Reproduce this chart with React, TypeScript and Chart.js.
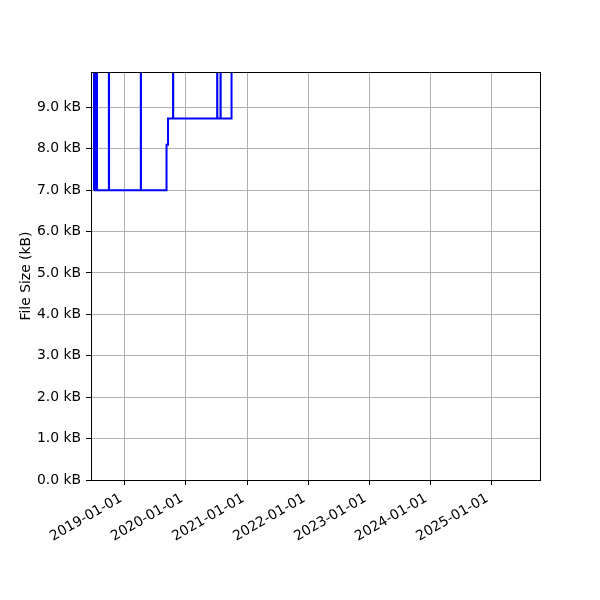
import React, { useEffect, useRef } from "react";
import { Chart, registerables } from "chart.js";

Chart.register(...registerables);

// Commit dates and file sizes (kB) — step series
const commitDates = [
  "2018-06-29", "2018-06-30", "2018-07-06", "2018-07-12", "2018-07-18",
  "2018-09-27", "2018-09-28",
  "2019-04-06", "2019-04-07",
  "2019-09-07", "2019-09-16",
  "2019-10-16", "2019-10-17",
  "2020-07-06", "2020-07-07",
  "2020-07-26", "2020-07-27",
  "2020-09-30",
];
const fileSizesKB = [
  7.0, 12.0, 7.0, 12.0, 7.0,
  12.0, 7.0,
  12.0, 7.0,
  8.1, 8.73,
  12.0, 8.73,
  12.0, 8.73,
  12.0, 8.73,
  12.0,
];
const yearTicks = [2019, 2020, 2021, 2022, 2023, 2024, 2025];
const sizeTicks = [0, 1, 2, 3, 4, 5, 6, 7, 8, 9];

const X_MIN = Date.UTC(2018, 5, 12);
const X_MAX = Date.UTC(2025, 9, 20);
const Y_MAX = 9.855;

const FONT = { family: "DejaVu Sans", size: 13.9 };

const toTs = (s: string) => {
  const [y, m, d] = s.split("-").map(Number);
  return Date.UTC(y, m - 1, d);
};

const pad2 = (n: number) => String(n).padStart(2, "0");

export default function App() {
  const ref = useRef<HTMLCanvasElement | null>(null);

  useEffect(() => {
    if (!ref.current) return;
    const frame = {
      id: "frame",
      afterDatasetsDraw(chart: any) {
        const { ctx, chartArea: a } = chart;
        ctx.save();
        ctx.strokeStyle = "#000";
        ctx.lineWidth = 1;
        ctx.strokeRect(Math.round(a.left) + 0.5, Math.round(a.top) + 0.5, Math.round(a.right - a.left), Math.round(a.bottom - a.top));
        ctx.restore();
      },
    };
    const chart = new Chart(ref.current, {
      type: "line",
      data: {
        datasets: [
          {
            data: commitDates.map((d, i) => ({ x: toTs(d), y: fileSizesKB[i] })),
            borderColor: "#0000ff",
            borderWidth: 2,
            pointRadius: 0,
            stepped: "before",
            fill: false,
          },
        ],
      },
      options: {
        animation: false,
        responsive: false,
        maintainAspectRatio: false,
        layout: { padding: { top: 72, right: 60, left: 0, bottom: 0 } },
        plugins: { legend: { display: false }, tooltip: { enabled: false } },
        scales: {
          x: {
            type: "linear",
            min: X_MIN,
            max: X_MAX,
            afterFit: (s: any) => { s.height = 120; },
            afterBuildTicks: (s: any) => {
              s.ticks = yearTicks.map((y) => ({ value: Date.UTC(y, 0, 1) }));
            },
            ticks: {
              autoSkip: false,
              minRotation: 30,
              maxRotation: 30,
              padding: 3,
              color: "#000",
              font: FONT,
              callback: (v: any) => {
                const d = new Date(v);
                return `${d.getUTCFullYear()}-${pad2(d.getUTCMonth() + 1)}-${pad2(d.getUTCDate())} `;
              },
            },
            grid: { color: "#b0b0b0", lineWidth: 1, tickColor: "#000", tickLength: 5 },
            border: { color: "#000", width: 1 },
          },
          y: {
            type: "linear",
            min: 0,
            max: Y_MAX,
            afterFit: (s: any) => { s.width = 91; },
            afterBuildTicks: (s: any) => {
              s.ticks = sizeTicks.map((v) => ({ value: v }));
            },
            title: {
              display: true,
              text: "File Size (kB)",
              color: "#000",
              font: FONT,
              padding: { top: 18, bottom: 0 },
            },
            ticks: {
              padding: 5,
              color: "#000",
              font: FONT,
              callback: (v: any) => `${Number(v).toFixed(1)} kB`,
            },
            grid: { color: "#b0b0b0", lineWidth: 1, tickColor: "#000", tickLength: 5 },
            border: { color: "#000", width: 1 },
          },
        },
      },
      plugins: [frame],
    });
    return () => chart.destroy();
  }, []);

  return (
    <div style={{ position: "fixed", left: 0, top: 0, width: 600, height: 600, background: "#fff" }}>
      <canvas ref={ref} width={600} height={600} style={{ width: 600, height: 600, display: "block" }} />
    </div>
  );
}
